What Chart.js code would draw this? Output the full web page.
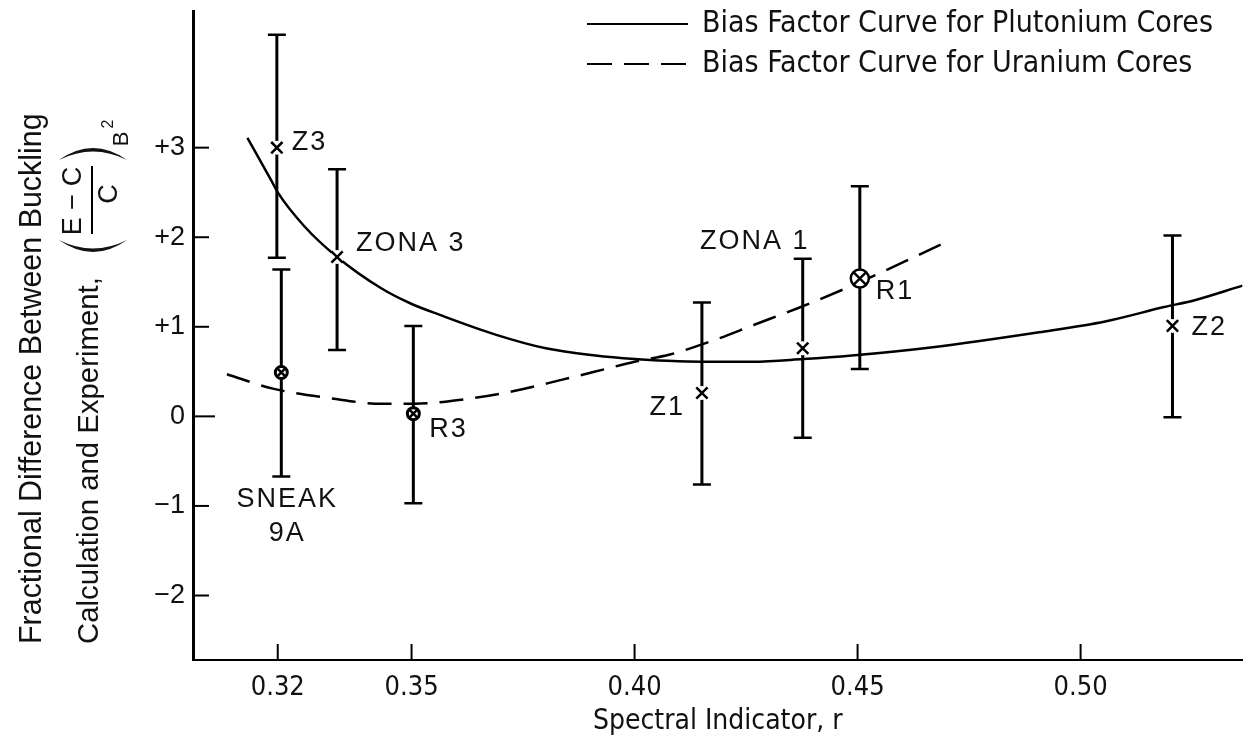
<!DOCTYPE html>
<html>
<head>
<meta charset="utf-8">
<script src="https://cdn.jsdelivr.net/npm/chart.js@4.4.1/dist/chart.umd.min.js"></script>
<style>
  html, body { margin: 0; padding: 0; background: #fff; }
  #chart { display: block; }
</style>
</head>
<body>
<canvas id="chart" width="1254" height="740"></canvas>
<script>
// axis ticks
const xTicks = [0.32, 0.35, 0.40, 0.45, 0.50];
const yTicks = [-2, -1, 0, 1, 2, 3];

// bias factor curve, plutonium cores (solid)
const puCurveX = [0.3132, 0.3187, 0.3200, 0.3260, 0.3333, 0.3432, 0.3498, 0.3565, 0.3690, 0.3801,
  0.3912, 0.4000, 0.4074, 0.4151, 0.4265, 0.4378, 0.4487, 0.4664, 0.4907, 0.5055, 0.5187, 0.5258, 0.5363];
const puCurveY = [3.11, 2.62, 2.50, 2.12, 1.78, 1.43, 1.26, 1.13, 0.91, 0.76,
  0.68, 0.64, 0.62, 0.61, 0.61, 0.64, 0.68, 0.77, 0.94, 1.06, 1.22, 1.30, 1.46];

// bias factor curve, uranium cores (dashed)
const uCurveX = [0.3086, 0.3189, 0.3321, 0.3432, 0.3506, 0.3617, 0.3727, 0.3838, 0.3912, 0.4000,
  0.4079, 0.4178, 0.4267, 0.4367, 0.4474, 0.4563, 0.4666, 0.4700];
const uCurveY = [0.47, 0.31, 0.20, 0.14, 0.14, 0.19, 0.28, 0.41, 0.50, 0.61,
  0.69, 0.85, 1.02, 1.21, 1.43, 1.63, 1.87, 1.95];

// measured points, plutonium cores (x marks)
const puNames = ["Z3", "ZONA 3", "Z1", "ZONA 1", "Z2"];
const puX = [0.3198, 0.3333, 0.4151, 0.4377, 0.5206];
const puY = [3.00, 1.78, 0.26, 0.76, 1.01];
const puLo = [1.77, 0.74, -0.76, -0.24, -0.01];
const puHi = [4.26, 2.76, 1.27, 1.76, 2.02];

// measured points, uranium cores (circled x)
const uNames = ["SNEAK\n9A", "R3", "R1"];
const uX = [0.3208, 0.3504, 0.4505];
const uY = [0.49, 0.03, 1.54];
const uLo = [-0.67, -0.97, 0.53];
const uHi = [1.64, 1.01, 2.57];

const narrow = '"Liberation Sans Narrow", "DejaVu Sans Condensed", "Arial Narrow", sans-serif';
const regular = '"Liberation Sans", Arial, Helvetica, sans-serif';

const toPts = (xs, ys) => xs.map((v, i) => ({ x: v, y: ys[i] }));

// label placement next to each point: [dx, dy, align]
const puLabelPos = [[15, -5, "left"], [19, -13, "left"], [-17, 14, "right"], [-48, -107, "center"], [19, 2, "left"]];
const uLabelPos = [[6, 127, "center"], [16, 16, "left"], [16, 13, "left"]];

function fitSize(ctx, text, family, width) {
  ctx.font = "100px " + family;
  return 100 * width / ctx.measureText(text).width;
}

// thin bracket drawn as a crescent, u = along the text, v = across it
function paren(ctx, u, bulge) {
  ctx.beginPath();
  ctx.moveTo(u, -31);
  ctx.quadraticCurveTo(u + bulge * 24, 3, u, 37);
  ctx.quadraticCurveTo(u + bulge * 17, 3, u, -31);
  ctx.fill();
}

const annotate = {
  id: "annotate",
  afterDraw(chart) {
    const { ctx, chartArea: a, scales: { x, y } } = chart;
    ctx.save();
    ctx.strokeStyle = "#000";
    ctx.fillStyle = "#111";

    // ticks point inwards
    ctx.lineWidth = 2;
    y.ticks.forEach((t, i) => {
      const py = y.getPixelForTick(i);
      ctx.beginPath();
      ctx.moveTo(a.left, py);
      ctx.lineTo(a.left + (t.value === 0 ? 22 : 16), py);
      ctx.stroke();
    });
    x.ticks.forEach((t, i) => {
      const px = x.getPixelForTick(i);
      ctx.beginPath();
      ctx.moveTo(px, a.bottom);
      ctx.lineTo(px, a.bottom - 16);
      ctx.stroke();
    });

    // point labels
    ctx.font = "27px " + regular;
    ctx.letterSpacing = "2px";
    ctx.textBaseline = "middle";
    const drawLabel = (name, px, py, pos) => {
      ctx.textAlign = pos[2];
      name.split("\n").forEach((line, k) => ctx.fillText(line, px + pos[0], py + pos[1] + k * 34));
    };
    puNames.forEach((n, i) => drawLabel(n, x.getPixelForValue(puX[i]), y.getPixelForValue(puY[i]), puLabelPos[i]));
    uNames.forEach((n, i) => drawLabel(n, x.getPixelForValue(uX[i]), y.getPixelForValue(uY[i]), uLabelPos[i]));
    ctx.letterSpacing = "0px";

    // legend
    const leg1 = "Bias Factor Curve for Plutonium Cores";
    const leg2 = "Bias Factor Curve for Uranium Cores";
    const ls = fitSize(ctx, leg1, narrow, 511);
    ctx.lineWidth = 2;
    ctx.beginPath(); ctx.moveTo(587, 24); ctx.lineTo(688, 24); ctx.stroke();
    ctx.setLineDash([25, 12]);
    ctx.beginPath(); ctx.moveTo(587, 64); ctx.lineTo(688, 64); ctx.stroke();
    ctx.setLineDash([]);
    ctx.font = ls + "px " + narrow;
    ctx.textAlign = "left";
    ctx.fillText(leg1, 702, 24);
    ctx.fillText(leg2, 702, 64);

    // y axis title, two rotated lines, second one ends with (E - C / C)_B2
    const t1 = "Fractional Difference Between Buckling";
    const t2 = "Calculation and Experiment,";
    const s1 = fitSize(ctx, t1, regular, 531);
    const s2 = fitSize(ctx, t2, regular, 367);
    ctx.textBaseline = "middle";
    ctx.save();
    ctx.translate(33, 644);
    ctx.rotate(-Math.PI / 2);
    ctx.font = s1 + "px " + regular;
    ctx.fillText(t1, 0, 0);
    ctx.restore();

    ctx.save();
    ctx.translate(90, 644);
    ctx.rotate(-Math.PI / 2);
    ctx.font = s2 + "px " + regular;
    ctx.textAlign = "left";
    ctx.fillText(t2, 0, 0);
    paren(ctx, 404, -1);
    paren(ctx, 484, 1);
    ctx.font = "27px " + regular;
    ctx.textAlign = "center";
    ctx.fillText("E \u2212 C", 443, -16);
    ctx.fillText("C", 450, 20);
    ctx.lineWidth = 2;
    ctx.beginPath(); ctx.moveTo(410, 2); ctx.lineTo(478, 2); ctx.stroke();
    ctx.font = "22px " + regular;
    ctx.fillText("B", 505, 32);
    ctx.font = "16px " + regular;
    ctx.fillText("2", 520, 19);
    ctx.restore();

    ctx.restore();
  }
};

const errorBars = [];
puX.forEach((v, i) => errorBars.push({ x: v, lo: puLo[i], hi: puHi[i] }));
uX.forEach((v, i) => errorBars.push({ x: v, lo: uLo[i], hi: uHi[i] }));

const barSets = errorBars.map((b) => ({
  data: [{ x: b.x, y: b.lo }, { x: b.x, y: b.hi }],
  showLine: true,
  borderColor: "#000",
  borderWidth: 3,
  pointStyle: "line",
  pointRadius: 9,
  pointBorderWidth: 2.5,
  pointBorderColor: "#000",
}));

const chart = new Chart(document.getElementById("chart").getContext("2d"), {
  type: "scatter",
  data: {
    datasets: [
      {
        label: "uranium x",
        data: toPts(uX, uY),
        pointStyle: "crossRot",
        pointRadius: [6, 6, 9],
        pointBorderWidth: 2.5,
        pointBorderColor: "#000",
      },
      {
        label: "uranium circle",
        data: toPts(uX, uY),
        pointStyle: "circle",
        pointRadius: [6, 6, 9],
        pointBorderWidth: [3, 3, 2.5],
        pointBorderColor: "#000",
        pointBackgroundColor: "#fff",
      },
      {
        label: "plutonium x",
        data: toPts(puX, puY),
        pointStyle: "crossRot",
        pointRadius: 8,
        pointBorderWidth: 2.5,
        pointBorderColor: "#000",
      },
      {
        label: "halo",
        data: toPts(puX, puY),
        pointStyle: "circle",
        pointRadius: 7,
        pointBorderWidth: 0,
        pointBackgroundColor: "#fff",
      },
      ...barSets,
      {
        label: "Bias Factor Curve for Plutonium Cores",
        data: toPts(puCurveX, puCurveY),
        showLine: true,
        pointRadius: 0,
        borderColor: "#000",
        borderWidth: 2.5,
        cubicInterpolationMode: "monotone",
      },
      {
        label: "Bias Factor Curve for Uranium Cores",
        data: toPts(uCurveX, uCurveY),
        showLine: true,
        pointRadius: 0,
        borderColor: "#000",
        borderWidth: 2.5,
        borderDash: [24, 12],
        cubicInterpolationMode: "monotone",
      },
    ],
  },
  options: {
    responsive: false,
    animation: false,
    layout: { padding: { top: 8, left: 0, right: 0, bottom: 0 } },
    plugins: {
      legend: { display: false },
      tooltip: { enabled: false },
    },
    scales: {
      x: {
        type: "linear",
        min: 0.301,
        max: 0.5363,
        afterFit: (s) => { s.height = 80; s.paddingLeft = 0; s.paddingRight = 0; },
        afterBuildTicks: (s) => { s.ticks = xTicks.map((v) => ({ value: v })); },
        grid: { display: false, drawTicks: false },
        border: { display: true, color: "#000", width: 2 },
        ticks: {
          padding: 12,
          color: "#111",
          font: { family: narrow, size: 27 },
          callback: (v) => v.toFixed(2),
        },
        title: {
          display: true,
          text: "Spectral Indicator, r",
          color: "#111",
          font: { family: narrow, size: 28 },
          padding: { top: 0, bottom: 1 },
        },
      },
      y: {
        type: "linear",
        min: -2.72,
        max: 4.52,
        afterFit: (s) => { s.width = 193; s.paddingTop = 0; s.paddingBottom = 0; },
        afterBuildTicks: (s) => { s.ticks = yTicks.map((v) => ({ value: v })); },
        grid: { display: false, drawTicks: false },
        border: { display: true, color: "#000", width: 3 },
        ticks: {
          padding: 8,
          color: "#111",
          font: { family: regular, size: 27 },
          callback: (v) => (v > 0 ? "+" + v : v < 0 ? "\u2212" + Math.abs(v) : "0"),
        },
      },
    },
  },
  plugins: [annotate],
});
</script>
</body>
</html>
